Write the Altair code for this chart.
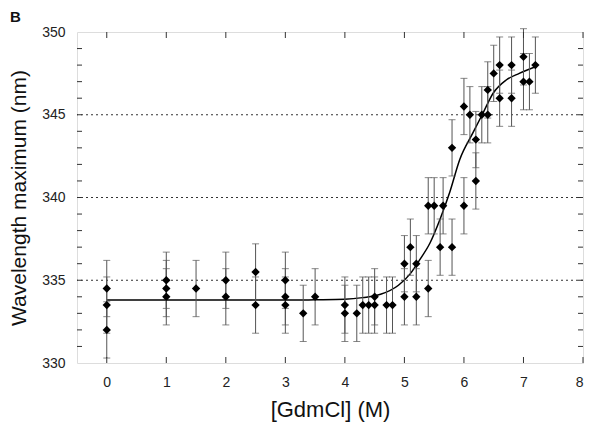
import altair as alt
import pandas as pd

# Measured data points (GdmCl concentration, wavelength maximum)
x_pts = [0, 0, 0, 1, 1, 1, 1.5, 2, 2, 2.5, 2.5, 3, 3, 3, 3.3, 3.5, 4, 4, 4.2, 4.3, 4.4,
         4.5, 4.5, 4.7, 4.8, 5.0, 5.0, 5.1, 5.2, 5.2, 5.4, 5.4, 5.5, 5.6, 5.65, 5.8, 5.8,
         6.0, 6.0, 6.1, 6.2, 6.2, 6.3, 6.4, 6.4, 6.5, 6.6, 6.6, 6.8, 6.8, 7.0, 7.0, 7.1, 7.2]
y_pts = [334.5, 333.5, 332, 335, 334.5, 334, 334.5, 335, 334, 335.5, 333.5, 335, 334, 333.5,
         333, 334, 333.5, 333, 333, 333.5, 333.5, 333.5, 334, 333.5, 333.5, 336, 334, 337,
         336, 334, 334.5, 339.5, 339.5, 337, 339.5, 337, 343, 339.5, 345.5, 345, 343.5, 341,
         345, 346.5, 345, 347.5, 348, 346, 348, 346, 348.5, 347, 347, 348]
err = 1.7

# Fitted curve
curve_x = [0, 1, 2, 3, 3.5, 4.0, 4.3, 4.6, 4.9, 5.1, 5.25, 5.43, 5.6, 5.76, 5.93, 6.15,
           6.32, 6.49, 6.71, 6.93, 7.2]
curve_y = [333.8, 333.8, 333.8, 333.8, 333.82, 333.85, 333.95, 334.15, 334.7, 335.4, 336.2,
           337.25, 338.7, 340.3, 342.3, 343.9, 345.1, 346.3, 347.1, 347.5, 347.9]

x_ticks = [0, 1, 2, 3, 4, 5, 6, 7, 8]
y_labels = [330, 335, 340, 345, 350]
y_grid = [335, 340, 345]
y_minor = list(range(331, 350))

W, H = 506, 331
FONT = "Liberation Sans"

pts = pd.DataFrame({"x": x_pts, "y": y_pts})
pts["lo"] = pts["y"] - err
pts["hi"] = pts["y"] + err
cur = pd.DataFrame({"x": curve_x, "y": curve_y})

xs = alt.Scale(domain=[-0.5, 8], nice=False, zero=False)
ys = alt.Scale(domain=[330, 350], nice=False, zero=False)

grid = alt.Chart(pd.DataFrame({"g": y_grid})).mark_rule(
    color="#333", strokeWidth=1, strokeDash=[2, 3]
).encode(y=alt.Y("g:Q", scale=ys))

curve = alt.Chart(cur).mark_line(color="black", strokeWidth=1.5, interpolate="monotone").encode(
    x=alt.X("x:Q", scale=xs, axis=alt.Axis(
        values=x_ticks, title="[GdmCl] (M)", ticks=False, tickSize=0, domain=False, grid=False,
        labelFontSize=14, titleFontSize=22, labelPadding=12, titlePadding=10, format="d",
        titleFontWeight="normal", labelColor="#222", titleColor="#111", labelFont=FONT, titleFont=FONT)),
    y=alt.Y("y:Q", scale=ys, axis=alt.Axis(
        values=y_labels, title="Wavelength maximum (nm)", ticks=False, tickSize=0, domain=False,
        grid=False,
        labelFontSize=14, titleFontSize=21, labelPadding=12, titlePadding=12, format="d",
        titleFontWeight="normal", labelColor="#222", titleColor="#111", labelFont=FONT, titleFont=FONT)),
)

bars = alt.Chart(pts).mark_rule(color="#555", strokeWidth=1).encode(
    x=alt.X("x:Q", scale=xs), y=alt.Y("lo:Q", scale=ys), y2="hi:Q")
cap_lo = alt.Chart(pts).mark_tick(color="#555", orient="horizontal", size=7, thickness=1).encode(
    x=alt.X("x:Q", scale=xs), y=alt.Y("lo:Q", scale=ys))
cap_hi = alt.Chart(pts).mark_tick(color="#555", orient="horizontal", size=7, thickness=1).encode(
    x=alt.X("x:Q", scale=xs), y=alt.Y("hi:Q", scale=ys))
points = alt.Chart(pts).mark_point(shape="diamond", filled=True, size=70, color="black", opacity=1).encode(
    x=alt.X("x:Q", scale=xs), y=alt.Y("y:Q", scale=ys))

ydf = pd.DataFrame({"v": y_minor})
xdf = pd.DataFrame({"v": x_ticks})
tick_l = alt.Chart(ydf).mark_rule(color="#333").encode(
    y=alt.Y("v:Q", scale=ys), x=alt.value(0), x2=alt.value(5))
tick_r = alt.Chart(ydf).mark_rule(color="#333").encode(
    y=alt.Y("v:Q", scale=ys), x=alt.value(W - 5), x2=alt.value(W))
tick_b = alt.Chart(xdf).mark_rule(color="#333").encode(
    x=alt.X("v:Q", scale=xs), y=alt.value(H - 6), y2=alt.value(H))
tick_t = alt.Chart(xdf).mark_rule(color="#333").encode(
    x=alt.X("v:Q", scale=xs), y=alt.value(0), y2=alt.value(6))

panel = alt.Chart(pd.DataFrame({"t": ["B"]})).mark_text(
    fontWeight="bold", fontSize=15, align="left", baseline="middle", font=FONT, color="#111"
).encode(text="t:N", x=alt.value(-67), y=alt.value(-15))

chart = alt.layer(grid, curve, bars, cap_lo, cap_hi, points, tick_l, tick_r, tick_b, tick_t, panel).properties(
    width=W, height=H,
    padding={"left": 69, "top": 24, "right": 9, "bottom": 64},
    autosize=alt.AutoSizeParams(type="none"),
).configure_view(stroke="#333", strokeWidth=1.5).configure(background="white")

chart.save("out.html", embed_options={"renderer": "svg", "actions": False})
